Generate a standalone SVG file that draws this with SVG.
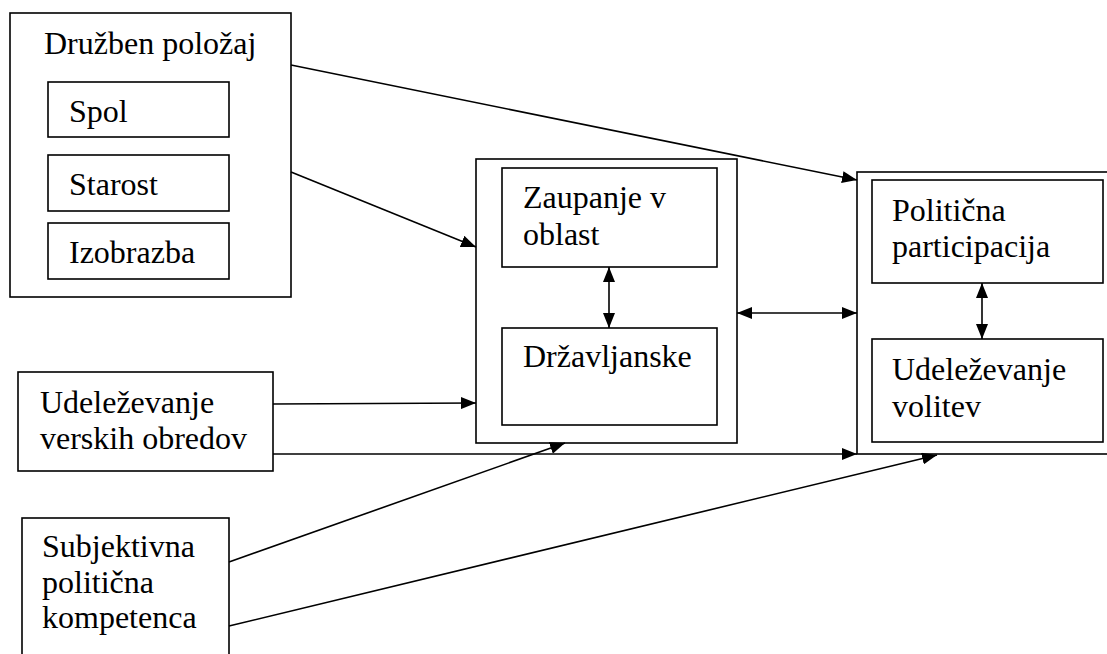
<svg xmlns="http://www.w3.org/2000/svg" width="1107" height="654" viewBox="0 0 1107 654">
<style>
.box{fill:none;stroke:#000;stroke-width:1.6}
.t{font-family:"Liberation Serif","Times New Roman",serif;font-size:32px;fill:#000}
.c{fill:none;stroke:#000;stroke-width:1.6}
</style>
<defs>
<marker id="ah" markerUnits="userSpaceOnUse" markerWidth="16" markerHeight="12" refX="15" refY="6" orient="auto-start-reverse">
<path d="M0,0 L15,6 L0,12 Z" fill="#000"/>
</marker>
</defs>
<rect width="1107" height="654" fill="#fff"/>
<g id="druzben">
<rect class="box" x="10" y="13" width="281" height="284"/>
<text class="t" x="44" y="54">Družben položaj</text>
</g>
<g id="spol">
<rect class="box" x="48" y="82" width="181" height="55"/>
<text class="t" x="69" y="122">Spol</text>
</g>
<g id="starost">
<rect class="box" x="48" y="155" width="181" height="56"/>
<text class="t" x="69" y="195">Starost</text>
</g>
<g id="izobrazba">
<rect class="box" x="48" y="223" width="181" height="56"/>
<text class="t" x="69" y="263">Izobrazba</text>
</g>
<g id="verski">
<rect class="box" x="18" y="372" width="255" height="99"/>
<text class="t" x="40" y="413">Udeleževanje</text>
<text class="t" x="40" y="449">verskih obredov</text>
</g>
<g id="subjektivna">
<rect class="box" x="22" y="518" width="207" height="150"/>
<text class="t" x="42" y="557">Subjektivna</text>
<text class="t" x="42" y="593">politična</text>
<text class="t" x="42" y="628">kompetenca</text>
</g>
<g id="middle">
<rect class="box" x="476" y="159" width="261" height="284"/>
</g>
<g id="zaupanje">
<rect class="box" x="502" y="168" width="215" height="99"/>
<text class="t" x="523" y="208">Zaupanje v</text>
<text class="t" x="523" y="245">oblast</text>
</g>
<g id="drzavljanske">
<rect class="box" x="502" y="328" width="215" height="97"/>
<text class="t" x="523" y="367">Državljanske</text>
</g>
<g id="right">
<rect class="box" x="857" y="172" width="270" height="282"/>
</g>
<g id="participacija">
<rect class="box" x="872" y="180" width="231" height="103"/>
<text class="t" x="892" y="221">Politična</text>
<text class="t" x="892" y="257">participacija</text>
</g>
<g id="volitev">
<rect class="box" x="872" y="339" width="231" height="103"/>
<text class="t" x="892" y="380">Udeleževanje</text>
<text class="t" x="892" y="417">volitev</text>
</g>
<g id="connectors">
<line class="c" x1="291" y1="65" x2="857" y2="180" marker-end="url(#ah)"/>
<line class="c" x1="291" y1="172" x2="476" y2="247" marker-end="url(#ah)"/>
<line class="c" x1="273" y1="404" x2="476" y2="403" marker-end="url(#ah)"/>
<line class="c" x1="273" y1="454" x2="857" y2="454" marker-end="url(#ah)"/>
<line class="c" x1="229" y1="562" x2="565" y2="443" marker-end="url(#ah)"/>
<line class="c" x1="229" y1="626" x2="937" y2="455" marker-end="url(#ah)"/>
<line class="c" x1="609" y1="267" x2="609" y2="328" marker-start="url(#ah)" marker-end="url(#ah)"/>
<line class="c" x1="737" y1="313" x2="857" y2="313" marker-start="url(#ah)" marker-end="url(#ah)"/>
<line class="c" x1="982" y1="283" x2="982" y2="339" marker-start="url(#ah)" marker-end="url(#ah)"/>
</g>
</svg>
